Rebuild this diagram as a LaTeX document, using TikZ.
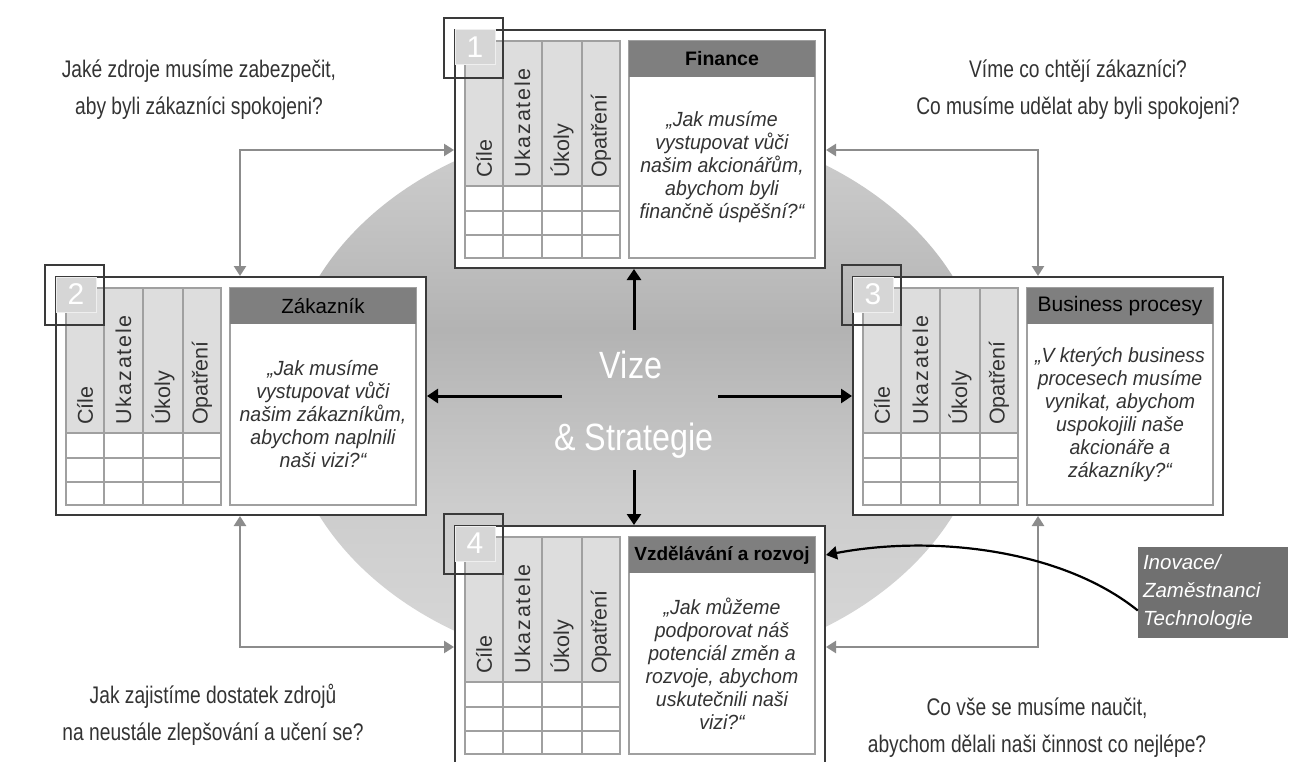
\documentclass[tikz,border=0pt]{standalone}
\usepackage{fontspec}
\setmainfont{Liberation Sans}
\newfontfamily\condfont[FakeStretch=0.8]{Liberation Sans}
\newfontfamily\vizefont[FakeStretch=0.85]{Liberation Sans}
\newfontfamily\bodyfont[FakeStretch=0.95]{Liberation Sans}
\usetikzlibrary{arrows.meta}

\definecolor{framec}{HTML}{3A3A3A}
\definecolor{gridc}{HTML}{A0A0A0}
\definecolor{headc}{HTML}{DDDDDD}
\definecolor{titlec}{HTML}{7F7F7F}
\definecolor{txtc}{HTML}{333333}
\definecolor{linkc}{HTML}{8C8C8C}
\definecolor{inovc}{HTML}{707070}
\definecolor{numc}{HTML}{D6D6D6}
\definecolor{ellA}{HTML}{D8D8D8}
\definecolor{ellB}{HTML}{CDCDCD}
\definecolor{ellC}{HTML}{B3B3B3}
\definecolor{ellD}{HTML}{C3C3C3}
\definecolor{ellE}{HTML}{D0D0D0}

% vertical shading of the vision ellipse (25bp..75bp map onto the ellipse)
\pgfdeclareverticalshading{visionshade}{100bp}{%
  color(0bp)=(ellA); color(25bp)=(ellA); color(40bp)=(ellB);
  color(56bp)=(ellC); color(66bp)=(ellD); color(75bp)=(ellE); color(100bp)=(ellE)}

\tikzset{
  outerbox/.style={draw=framec, fill=white, line width=2pt,
    minimum width=370pt, minimum height=238pt, inner sep=0pt},
  gridline/.style={draw=gridc, line width=1.3pt},
  collabel/.style={rotate=90, anchor=west, inner sep=0pt, text=txtc,
    font=\fontsize{21.5}{21.5}\selectfont},
  titlebar/.style={fill=titlec, minimum width=186pt, minimum height=36pt,
    inner sep=0pt, text=black},
  bodypanel/.style={draw=gridc, line width=1.3pt, fill=white,
    minimum width=186pt, minimum height=217pt, inner sep=0pt},
  bodytext/.style={align=center, text=txtc, inner sep=0pt,
    font=\bodyfont\itshape\fontsize{20.5}{23}\selectfont},
  numsq/.style={fill=numc, draw=white!60!numc, line width=1pt,
    minimum width=40pt, minimum height=35pt, inner sep=0pt, text=white,
    font=\fontsize{30}{30}\selectfont},
  numframe/.style={draw=framec, line width=2pt},
  cornertext/.style={align=center, text=txtc, inner sep=0pt,
    font=\condfont\fontsize{24}{37}\selectfont},
  visiontext/.style={text=white, inner sep=0pt, anchor=base,
    font=\vizefont\fontsize{38}{38}\selectfont},
  linkarrow/.style={draw=linkc, line width=2.4pt,
    {Triangle[length=10pt,width=12pt]}-{Triangle[length=10pt,width=12pt]}},
  visionarrow/.style={draw=black, line width=3pt,
    -{Triangle[length=11pt,width=14pt]}},
  curvearrow/.style={draw=black, line width=2.2pt,
    -{Triangle[length=11pt,width=13pt]}},
  inovbox/.style={fill=inovc, text=white, align=left, text width=140pt,
    inner xsep=5pt, inner ysep=0pt, minimum height=91pt,
    font=\itshape\fontsize{20.5}{28}\selectfont},
}

% one perspective panel: #1 name, #2/#3 top-left corner, #4 number,
% #5 title, #6 guiding question
\newcommand\bscpanel[6]{%
\begin{scope}[shift={(#2,#3)}]
  \node[outerbox] (#1) at (185,119) {};
  \fill[headc] (10,11) rectangle (165,156);
  \draw[gridline] (10,11) rectangle (165,228);
  \foreach \cx in {48,87,127} \draw[gridline] (\cx,11) -- (\cx,228);
  \foreach \ry in {156,181,205} \draw[gridline] (10,\ry) -- (165,\ry);
  \foreach \cx/\lab [count=\i] in {29/Cíle,67.5/{\addfontfeature{LetterSpace=8}Ukazatele},107/Úkoly,146/Opatření}
    \node[collabel] (#1c\i) at (\cx,148) {\lab};
  \node[bodypanel] (#1p) at (267,119.5) {};
  \node[titlebar] (#1t) at (267,29) {#5};
  \node[bodytext] (#1q) at (267,137.5) {#6};
  \node[numsq] (#1n) at (20,17.5) {#4};
  \draw[numframe] (-11,-12) rectangle (48,48);
\end{scope}}

\begin{document}
\begin{tikzpicture}[x=1pt,y=-1pt]
  \useasboundingbox (0,0) rectangle (1290,762);
  \fill[white] (0,0) rectangle (1290,762);

  % vision ellipse in the background
  \shade[shading=visionshade] (636,396) ellipse [x radius=352pt, y radius=274pt];

  % guiding questions in the corners
  \node[cornertext] (qtl) at (199,89.5)
    {Jaké zdroje musíme zabezpečit,\\aby byli zákazníci spokojeni?};
  \node[cornertext] (qtr) at (1078,89.5)
    {Víme co chtějí zákazníci?\\Co musíme udělat aby byli spokojeni?};
  \node[cornertext] (qbl) at (213,715)
    {Jak zajistíme dostatek zdrojů\\na neustále zlepšování a učení se?};
  \node[cornertext] (qbr) at (1037,728)
    {Co vše se musíme naučit,\\abychom dělali naši činnost co nejlépe?};

  % the four perspectives
  \bscpanel{b1}{455}{30}{1}{\bfseries\fontsize{19.5}{19.5}\selectfont Finance}
    {„Jak musíme\\vystupovat vůči\\našim akcionářům,\\abychom byli\\finančně úspěšní?“}
  \bscpanel{b2}{56}{277}{2}{\fontsize{20.5}{20.5}\selectfont Zákazník}
    {„Jak musíme\\vystupovat vůči\\našim zákazníkům,\\abychom naplnili\\naši vizi?“}
  \bscpanel{b3}{853}{277}{3}{\fontsize{21}{21}\selectfont Business procesy}
    {„V kterých business\\procesech musíme\\vynikat, abychom\\uspokojili naše\\akcionáře a\\zákazníky?“}
  \bscpanel{b4}{455}{526}{4}{\bfseries\fontsize{19}{19}\selectfont Vzdělávání a rozvoj}
    {„Jak můžeme\\podporovat náš\\potenciál změn a\\rozvoje, abychom\\uskutečnili naši\\vizi?“}

  % links between neighbouring perspectives
  \coordinate (tlc) at (240,150);
  \coordinate (trc) at (1038,150);
  \coordinate (blc) at (240,647);
  \coordinate (brc) at (1038,647);
  \draw[linkarrow] (b2.north -| tlc) -- (tlc) -- (tlc -| b1.west);
  \draw[linkarrow] (trc -| b1.east) -- (trc) -- (b3.north -| trc);
  \draw[linkarrow] (b2.south -| blc) -- (blc) -- (blc -| b4.west);
  \draw[linkarrow] (b3.south -| brc) -- (brc) -- (brc -| b4.east);

  % vision and strategy in the centre
  \node[visiontext] (vize) at (631,378) {Vize};
  \node[visiontext] (strat) at (634,450) {\& Strategie};
  \coordinate (vu) at (634,330);
  \coordinate (vl) at (562,396);
  \coordinate (vr) at (718,396);
  \coordinate (vd) at (634,470);
  \draw[visionarrow] (vu) -- (vu |- b1.south);
  \draw[visionarrow] (vl) -- (vl -| b2.east);
  \draw[visionarrow] (vr) -- (vr -| b3.west);
  \draw[visionarrow] (vd) -- (vd |- b4.north);

  % innovation drivers feeding learning and growth
  \node[inovbox] (inov) at (1213,592.5) {Inovace/\\Zaměstnanci\\Technologie};
  \draw[curvearrow] ([yshift=-18pt]inov.west) .. controls (1060,548) and (930,535) .. (b4t.east -| b4.east);
\end{tikzpicture}
\end{document}
